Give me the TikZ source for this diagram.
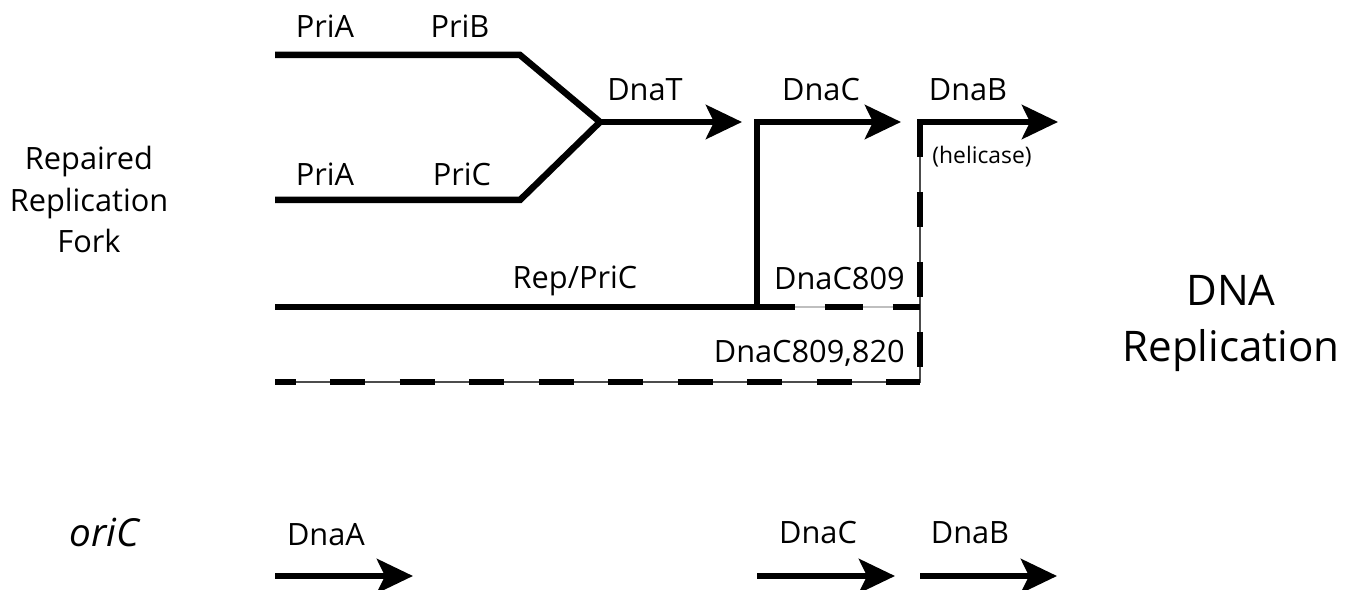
\documentclass[tikz,border=0pt]{standalone}
\usepackage{fontspec}
\setmainfont{Open Sans}
\usetikzlibrary{arrows.meta,positioning}

\begin{document}
\begin{tikzpicture}[x=0.02cm,y=-0.02cm,
        strand/.style={line width=0.13cm,line join=miter},
        hop/.style={strand,-{Stealth[length=0.72cm,width=0.68cm,inset=0.16cm]}},
        mutant/.style={line width=0.13cm,dash pattern=on 0.7cm off 0.7cm},
        guide/.style={line width=0.025cm,black!70},
        lbl/.style={anchor=base,inner sep=0pt,font=\fontsize{17.5}{23.8}\selectfont},
        big/.style={anchor=base,inner sep=0pt,align=center,font=\fontsize{24}{32.3}\selectfont}]
            \useasboundingbox (0,0) rectangle (1349,590);
            \coordinate (topL) at (275,55);
            \coordinate (topK) at (520,55);
            \coordinate (lowL) at (275,200);
            \coordinate (lowK) at (520,200);
            \coordinate (fork) at (600,122);
            \coordinate (dnaTend) at (742,122);
            \coordinate (loadC) at (757,122);
            \coordinate (dnaCend) at (901,122);
            \coordinate (loadB) at (920,122);
            \coordinate (dnaBend) at (1058,122);
            \coordinate (repL) at (275,307);
            \coordinate (repK) at (757,307);
            \coordinate (mutK) at (920,307);
            \coordinate (dblL) at (275,382);
            \coordinate (dblK) at (920,382);
            \coordinate (oriA) at (275,576);
            \coordinate (oriAend) at (413,576);
            \coordinate (oriC) at (757,576);
            \coordinate (oriCend) at (895,576);
            \coordinate (oriB) at (920,576);
            \coordinate (oriBend) at (1057,576);

            \draw[strand] (topL) -- (topK) -- (fork) -- (lowK) -- (lowL);
            \draw[hop] (fork) -- (dnaTend);
            \draw[hop] (repK) -- (loadC) -- (dnaCend);
            \draw[strand] (repL) -- (repK);
            \draw[guide] (loadB) -- (dblK) -- (dblL);
            \draw[guide,black!25] (repK) -- (mutK);
            \draw[hop] (loadB) ++(0,12) -- (loadB) -- (dnaBend);
            \draw[mutant] (loadB) -- (dblK);
            \draw[mutant,dash pattern=on 0.76cm off 0.6cm] (repK) -- (mutK);
            \draw[mutant,dash pattern=on 0.7cm off 0.69cm,dash phase=0.28cm] (dblL) -- (dblK);
            \draw[hop] (oriA) -- (oriAend);
            \draw[hop] (oriC) -- (oriCend);
            \draw[hop] (oriB) -- (oriBend);

            \node[lbl] (priAtop) at (325,38) {PriA};
            \node[lbl] (priB) at (460,38) {PriB};
            \node[lbl] (priAlow) at (325,186) {PriA};
            \node[lbl] (priC) at (462,186) {PriC};
            \node[lbl] (dnaT) at (645,101) {DnaT};
            \node[lbl] (dnaCtop) at (821,101) {DnaC};
            \node[lbl] (dnaBtop) at (968,101) {DnaB};
            \node[lbl,font=\fontsize{13}{15}\selectfont] (helicase) at (982,164) {(helicase)};
            \node[lbl] (repPriC) at (575,289) {Rep/PriC};
            \node[lbl,anchor=base east] (dnaC809) at (905,290) {DnaC809};
            \node[lbl,anchor=base east] (dnaC820) at (905,363) {DnaC809,820};
            \node[lbl,align=center] (fork) at (89,253) {Repaired\\Replication\\Fork};
            \node[big] (dnaRep) at (1231,362) {DNA\\Replication};
            \node[lbl,font=\fontsize{22}{26}\selectfont\itshape] (origin) at (104,547) {oriC};
            \node[lbl] (dnaA) at (326,546) {DnaA};
            \node[lbl] (dnaCbot) at (818,544) {DnaC};
            \node[lbl] (dnaBbot) at (970,544) {DnaB};
        \end{tikzpicture}
\end{document}
